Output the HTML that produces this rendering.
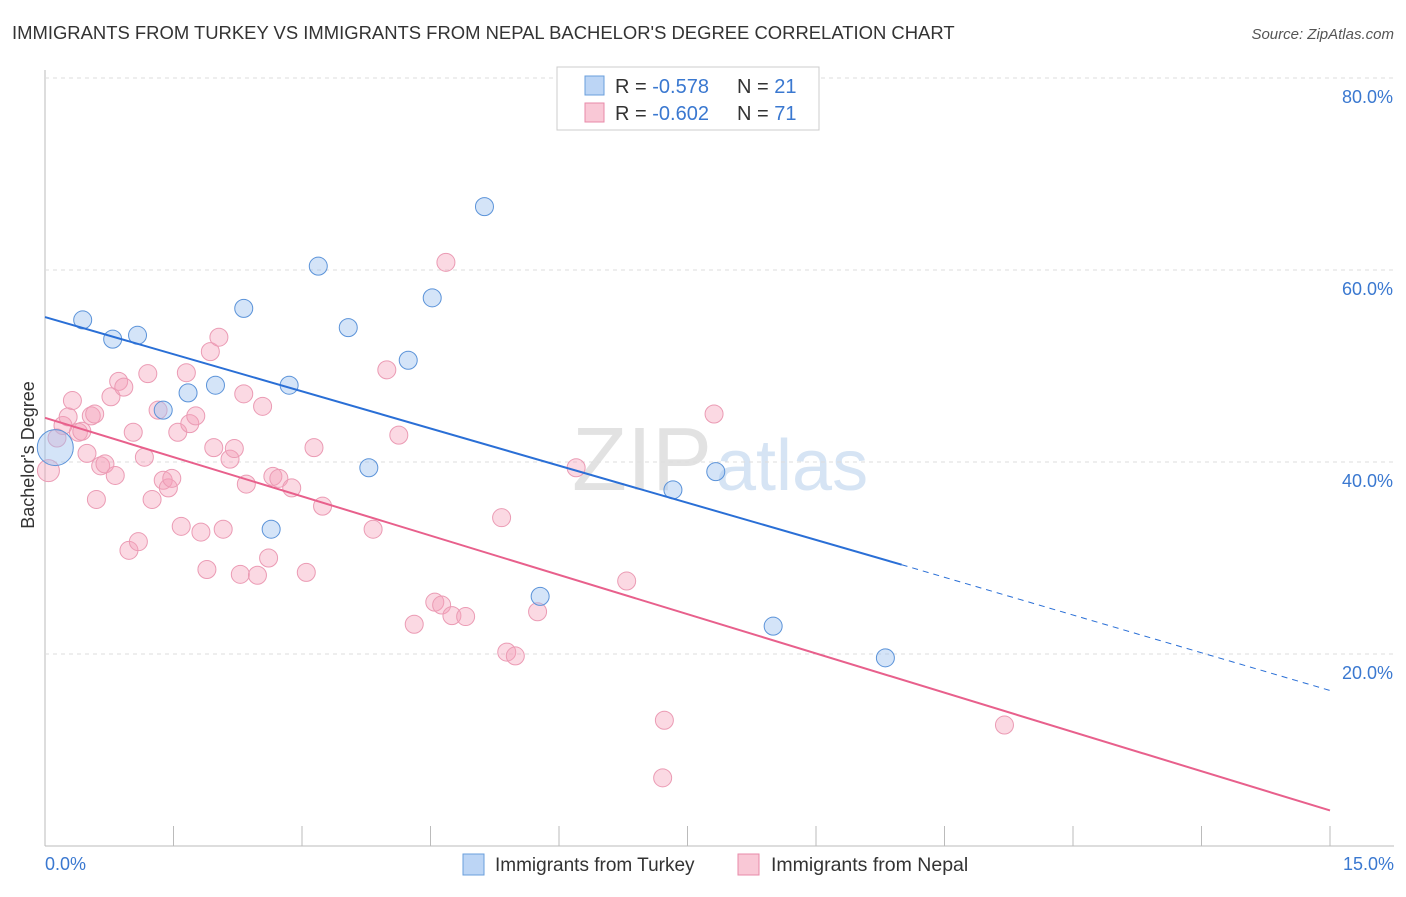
<!DOCTYPE html>
<html><head><meta charset="utf-8"><style>
body{margin:0;background:#fff;font-family:"Liberation Sans",sans-serif}
svg text{font-family:"Liberation Sans",sans-serif}
</style></head><body>
<svg id="chart" width="1406" height="892">
<text x="12" y="39" font-size="18.45" fill="#333">IMMIGRANTS FROM TURKEY VS IMMIGRANTS FROM NEPAL BACHELOR'S DEGREE CORRELATION CHART</text>
<text x="1394" y="39" font-size="15" fill="#555" text-anchor="end" font-style="italic">Source: ZipAtlas.com</text>
<text x="712" y="490" font-size="90" fill="#e2e2e2" text-anchor="end" font-family="Liberation Serif">ZIP</text>
<text x="716" y="490" font-size="72" fill="#d6e4f4">atlas</text>
<g id="grid"></g><g id="pts"></g><g id="lines"></g>
<text transform="translate(34,455) rotate(-90)" font-size="18" fill="#333" text-anchor="middle">Bachelor's Degree</text>
<g>
<rect x="557" y="67" width="262" height="63" fill="#fff" stroke="#ccc"/>
<rect x="585" y="76" width="19" height="19" fill="#bcd5f5" stroke="#6a9fdc"/>
<rect x="585" y="103" width="19" height="19" fill="#f9c8d6" stroke="#e88aa8"/>
<text x="615" y="93" font-size="20" fill="#333">R = <tspan fill="#3a78d0">-0.578</tspan></text>
<text x="737" y="93" font-size="20" fill="#333">N = <tspan fill="#3a78d0">21</tspan></text>
<text x="615" y="120" font-size="20" fill="#333">R = <tspan fill="#3a78d0">-0.602</tspan></text>
<text x="737" y="120" font-size="20" fill="#333">N = <tspan fill="#3a78d0">71</tspan></text>
</g>
<g>
<rect x="463" y="854" width="21" height="21" fill="#bcd5f5" stroke="#6a9fdc"/>
<text x="495" y="871" font-size="19" fill="#333">Immigrants from Turkey</text>
<rect x="738" y="854" width="21" height="21" fill="#f9c8d6" stroke="#e88aa8"/>
<text x="771" y="871" font-size="19.5" fill="#333">Immigrants from Nepal</text>
</g>
<text x="45" y="870" font-size="18" fill="#3a78d0">0.0%</text>
<text x="1394" y="870" font-size="18" fill="#3a78d0" text-anchor="end">15.0%</text>
</svg>
<script>
const yTicks=[20,40,60,80];
const turkeyX=[0.12,0.44,0.79,1.08,1.38,1.67,1.99,2.32,2.64,2.85,3.19,3.54,3.78,4.24,4.52,5.13,5.78,7.33,7.83,8.5,9.81];
const turkeyY=[41.5,54.8,52.8,53.2,45.4,47.2,48.0,56.0,33.0,48.0,60.4,54.0,39.4,50.6,57.1,66.6,26.0,37.1,39.0,22.9,19.6];
const nepalX=[0.04,0.14,0.21,0.27,0.32,0.39,0.43,0.49,0.54,0.58,0.65,0.7,0.77,0.82,0.86,0.92,0.98,1.03,1.09,1.16,1.2,1.25,1.32,1.38,1.44,1.48,1.55,1.59,1.65,1.69,1.76,1.82,1.89,1.93,1.97,2.03,2.08,2.16,2.21,2.28,2.32,2.35,2.48,2.54,2.61,2.66,2.73,2.88,3.05,3.14,3.24,3.83,3.99,4.13,4.31,4.55,4.63,4.75,4.91,4.68,5.33,5.39,5.49,5.75,6.2,6.79,7.23,7.21,7.81,11.2,0.6];
const nepalY=[39.1,42.5,43.8,44.7,46.4,43.1,43.2,40.9,44.8,45.0,39.6,39.8,46.8,38.6,48.4,47.8,30.8,43.1,31.7,40.5,49.2,36.1,45.4,38.1,37.3,38.3,43.1,33.3,49.3,44.0,44.8,32.7,28.8,51.5,41.5,53.0,33.0,40.3,41.4,28.3,47.1,37.7,28.2,45.8,30.0,38.5,38.3,37.3,28.5,41.5,35.4,33.0,49.6,42.8,23.1,25.4,25.1,24.0,23.9,60.8,34.2,20.2,19.8,24.4,39.4,27.6,13.1,7.1,45.0,12.6,36.1];
const blueLine=[0,55.1,10,29.3,15,16.2];
const pinkLine=[0,44.6,15,3.7];
const X=v=>45+v/15*1285, Y=v=>846-v*9.6;
const NS="http://www.w3.org/2000/svg";
function mk(t,a,p){const e=document.createElementNS(NS,t);for(const k in a)e.setAttribute(k,a[k]);p.appendChild(e);return e;}
const grid=document.getElementById('grid');
mk('line',{x1:45,y1:70,x2:45,y2:846,stroke:'#bbb'},grid);
mk('line',{x1:45,y1:846,x2:1394,y2:846,stroke:'#bbb'},grid);
for(let i=1;i<=10;i++){const l=mk('line',{x1:X(i*1.5),y1:826,x2:X(i*1.5),y2:846,stroke:'#bbb'},grid);

}
yTicks.forEach(v=>{const l=mk('line',{x1:45,y1:Y(v),x2:1394,y2:Y(v),stroke:'#ddd','stroke-dasharray':'4 4'},grid);


const t=mk('text',{x:1393,y:Y(v)+25,'font-size':18,fill:'#3a78d0','text-anchor':'end'},grid);t.textContent=v.toFixed(1)+'%';

});
const pts=document.getElementById('pts');
nepalX.forEach((x,i)=>{const c=mk('circle',{cx:X(x),cy:Y(nepalY[i]),r:i==0?11:9,fill:'rgba(244,160,186,0.4)',stroke:'#eb9bb4','stroke-width':1},pts);

});
turkeyX.forEach((x,i)=>{const c=mk('circle',{cx:X(x),cy:Y(turkeyY[i]),r:i==0?18:9,fill:'rgba(160,195,240,0.45)',stroke:'#5b93d9','stroke-width':1},pts);

});
const lines=document.getElementById('lines');
let l=mk('line',{x1:X(blueLine[0]),y1:Y(blueLine[1]),x2:X(blueLine[2]),y2:Y(blueLine[3]),stroke:'#2a6fd6','stroke-width':2},lines);


l=mk('line',{x1:X(blueLine[2]),y1:Y(blueLine[3]),x2:X(blueLine[4]),y2:Y(blueLine[5]),stroke:'#2a6fd6','stroke-width':1,'stroke-dasharray':'6 5'},lines);


l=mk('line',{x1:X(pinkLine[0]),y1:Y(pinkLine[1]),x2:X(pinkLine[2]),y2:Y(pinkLine[3]),stroke:'#e8608c','stroke-width':2},lines);


</script>
</body></html>
